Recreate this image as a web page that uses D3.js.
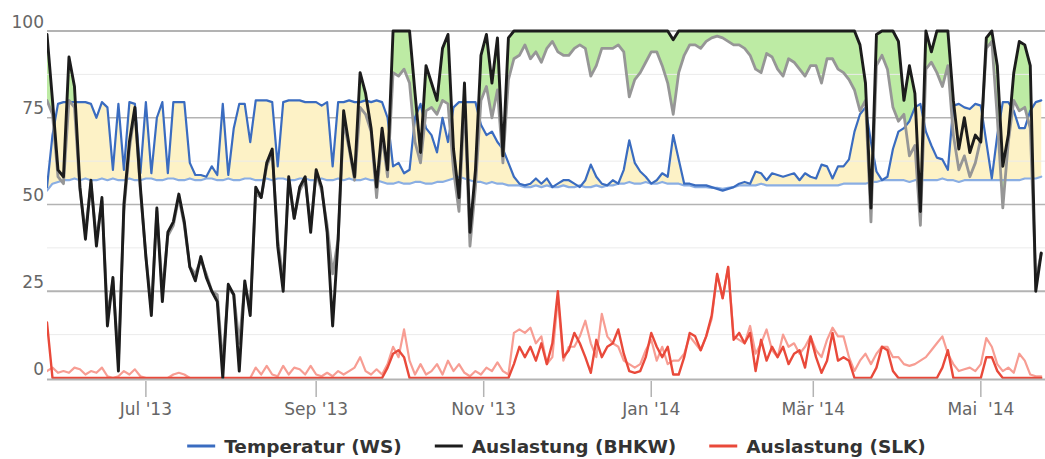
<!DOCTYPE html>
<html><head><meta charset="utf-8">
<script src="https://cdn.jsdelivr.net/npm/d3@7"></script>
<style>body{margin:0;background:#fff}svg{display:block}</style>
</head><body>
<svg id="c" width="1045" height="459"></svg>
<script>
// ---- data: one value every 2 days, starting 26 May 2013 ----
const startDay = "2013-05-26";
const stepDays = 2;

const tempHigh = [
 55,70,79,79.5,79.5,79.5,79.5,79.5,79,75,
 79.5,78,60,79,60,79.5,79,59,79.5,59,
 75,79.5,59,79.5,79.5,79.5,62,58.5,58.5,58,
 61,58.5,79,58.5,72,79,79,68,80,80,
 80,79.5,61,79.5,80,80,80,79.5,79.5,79.5,
 78.5,79.5,61,79.5,79.5,80,79.5,79.5,80,79.5,
 80,79.5,75,61,62,59,60,75,79,72,
 70,65,75,68,78,79.5,79.5,79.5,79.5,73,
 70,71,68,66,62,58,56,55.5,56,57.5,
 56,57.5,55,56,57,57,56,55,57,61.5,
 58,56,55.5,57,56,60,68.5,62,59.5,58,
 56,57,59,58,70,63,56,56,55.5,55.5,
 55.5,55,54.5,54,54.5,55,56,56.5,56,59.5,
 59,57,59,58.5,58,58.5,59,57,59,58,
 57.5,61.5,61,57.5,61,61,63,71,76,78,
 68,59.5,57,58,66,71,72,74,78,79,
 71,67,63.5,63,60,78.5,79,78,77.5,79,
 78.5,68,57.5,70,79.5,79.5,77,72,72,77,
 79.5,80
];
const tempLow = [
 54,56,56.5,57,57,57.5,57,57.5,57,57,
 57.5,57,57.5,57,57,57.5,57,57,57.5,57.5,
 57,57,57.5,57.5,57,57,57.5,57,57,57.5,
 57.5,57,57,57.5,57,57,57.5,57.5,57,57,
 57.5,57,57.5,57.5,57,57,57.5,57.5,57,57,
 57.5,57,57,57.5,57,57.5,57,57,57.5,57,
 57,56.5,56,56,56.5,56,56,56.5,56.5,56,
 56,56.5,56.5,57,57.5,58,57.5,57,56.5,56.5,
 56,56.5,56,56,55.5,55.5,55.5,55,55,55.5,
 55,55.5,55,55,55.5,55,55,55.5,55,55,
 55.5,55,55.5,55.5,56,56,56.5,56,56,56.5,
 56,56,56.5,56,56,56,55.5,55.5,55,55,
 55,54.8,54.8,54.5,54.8,55,55.5,55.5,55.5,55.5,
 56,55.5,55.5,55.5,55.5,55.5,55.5,55.5,55.5,55.5,
 55.5,55.5,55.5,55.5,55.5,56,56,56,56,56,
 56.5,56.5,57,57,57,57,57,56.5,57,57,
 57,57,57,57.5,57,57,56.5,57,57,57,
 57,57,57,57,57,57,57,57,57.5,57.5,
 57.5,58
];
const bhkwLoad = [
 99,80,60,58,92.5,84,55,40,57,38,
 52,15,29,2,50,68,78,55,35,18,
 49,22,42,45,53,45,32,28,35,29,
 25,22,0,27,24,2,28,18,55,52,
 62,66,38,25,58,46,55,58,42,60,
 55,42,15,40,77,67,58,88,82,72,
 55,72,60,100,100,100,100,82,65,90,
 85,80,95,99,66,52,85,42,60,93,
 99,85,98,64,98,100,100,100,100,100,
 100,100,100,100,100,100,100,100,100,100,
 100,100,100,100,100,100,100,100,100,100,
 100,100,100,100,97.5,100,100,100,100,100,
 100,100,100,100,100,100,100,100,100,100,
 100,100,100,100,100,100,100,100,100,100,
 100,100,100,100,100,100,100,100,96,85,
 49,99,100,100,100,97,80,90,82,48,
 100,94,100,100,100,80,66,75,65,70,
 68,98,100,90,61,70,88,97,96,90,
 25,36
];
const bhkwLoadRef = [
 80,76,58,56,80,78,54,42,56,40,
 51,18,28,5,48,66,77,54,35,20,
 48,25,41,44,52,44,32,30,34,30,
 25,24,4,26,24,10,27,20,53,52,
 61,65,40,28,57,46,54,57,44,59,
 54,44,30,40,74,66,57,78,76,71,
 52,70,58,88,87,89,85,68,62,77,
 78,76,80,79,60,48,80,38,55,80,
 84,75,83,62,86,92,93,96,92,94,
 91,95,97,94,93,93,95,96,95,87,
 90,95,95,95,96,94,81,86,88,91,
 94,94,90,85,76,88,93,96,96,95,
 97,98,98.5,98,97,96,96,95,93,89,
 88,93.5,92.5,89,87,92,91,89,87,90,
 90,85,92,92,89,88,86,83,77,80,
 45,90,93,89,78,74,76,64,67,44,
 89,91,88,84,90,70,60,64,58,62,
 69,95,97,75,49,68,80,77,78,72,
 28,36
];
const slkLoad = [
 16,0,0,0,0,0,0,0,0,0,
 0,0,0,0,0,0,0,0,0,0,
 0,0,0,0,0,0,0,0,0,0,
 0,0,0,0,0,0,0,0,0,0,
 0,0,0,0,0,0,0,0,0,0,
 0,0,0,0,0,0,0,0,0,0,
 0,0,3,7,8,6,0,0,0,0,
 0,0,0,0,0,0,0,0,0,0,
 0,0,0,0,0,4,9,6,9,5,
 10,4,10,25,6,8,13,10,6,1.5,
 11,6,9,10,14,7,2,1.5,2,6,
 13,9,6,9,1,1,6,13,12,8,
 12,18,30,23,32,11,13,10,13,2,
 11,5,9,6,9,4,7,8,3,12,
 6,1.5,5,13,5,6,5,0,0,0,
 0,3,9,8,2,0,0,0,0,0,
 0,0,0,3,8,0,0,0,0,0,
 0,6,6,2,0,0,0,0,0,0,
 0,0
];
const slkLoadRef = [
 2,3,1.5,2,1.5,3,2.5,1,2,1.5,
 3,0.5,0,0.5,2,1,2.5,0.5,0,0,
 0,0,0,1,1.5,1,0,0,0,0,
 0,0,0,0,0,0,0,0,3,1,
 3.5,1,0.5,3.5,1,3,2.5,1,3.5,1,
 0.5,1.5,0.5,2,1,2,3,6,2,1,
 2.5,1,4,9,6,14,5,1,4,1,
 2,4,1,5,2,4,1.5,0.5,2,1,
 3,2,4.5,2,1,13,14,13,14.5,10,
 12,4,6,23,5,9,9,12,16.5,10,
 6,18.5,12,10,9,5,4,3,4,8,
 11,5,9,4,5,5,7,12,10,8,
 12,17,30,23,32,12,11,10,15,7,
 10,14,8,6,12.5,9,10,7,9,12,
 8,6,11,14.5,12,12,6,2,5,7,
 4,7,9,9,6,6,4,3.5,4,5,
 6,8,10,12,7,4,2,2.5,3,2,
 4,11.5,9,4,2,3,1.5,7,5,1,
 0.5,0.5
];

const seriesNames = ["Temperatur (WS)", "Auslastung (BHKW)", "Auslastung (SLK)"];
const tickDates = ["2013-07-01","2013-09-01","2013-11-01","2014-01-01","2014-03-01","2014-05-01"];
const tickLabels = ["Jul '13","Sep '13","Nov '13","Jan '14","Mär '14","Mai\u00A0 '14"];
const yTicks = [0,25,50,75,100];
const yMinorTicks = [12.5,37.5,62.5,87.5];
const xDomain = ["2013-05-26","2014-05-24"];

// ---- drawing ----
const svg = d3.select("#c");
const parse = d3.utcParse("%Y-%m-%d");
const x = d3.scaleUtc().domain(xDomain.map(parse)).range([47, 1044]);
const y = d3.scaleLinear().domain([0, 100]).range([378, 31]);
const t0 = parse(startDay);
const rows = tempHigh.map((v, i) => ({
  date: d3.utcDay.offset(t0, i * stepDays),
  th: v, tl: tempLow[i], b: bhkwLoad[i], g: bhkwLoadRef[i], s: slkLoad[i], sr: slkLoadRef[i]
}));

const C = {
  blue: "#3a6cc0", blueLight: "#8aaee3", yellow: "#fdf2c6", green: "#bdeba4",
  black: "#1c1c1c", gray: "#969696", red: "#e9493a", redLight: "#f79d93"
};

svg.append("defs").append("clipPath").attr("id", "plot")
  .append("rect").attr("x", 47).attr("y", 20).attr("width", 1000).attr("height", 362);

// major gridlines
svg.append("g").selectAll("line").data(yTicks.filter(v => v > 0)).join("line")
  .attr("x1", 47).attr("x2", 1045)
  .attr("y1", d => y(d)).attr("y2", d => y(d))
  .attr("stroke", "#b3b3b3")
  .attr("stroke-width", d => (d === 25 || d === 100) ? 2 : 1.5);

const plot = svg.append("g").attr("clip-path", "url(#plot)");

// fills (temperature band drawn over the load band)
plot.append("path").datum(rows)
  .attr("fill", C.green)
  .attr("d", d3.area().x(d => x(d.date)).y0(d => y(Math.min(d.g, d.b))).y1(d => y(d.b)));
plot.append("path").datum(rows)
  .attr("fill", C.yellow)
  .attr("d", d3.area().x(d => x(d.date)).y0(d => y(d.tl)).y1(d => y(d.th)));

// minor gridlines
plot.append("g").selectAll("line").data(yMinorTicks).join("line")
  .attr("x1", 47).attr("x2", 1045)
  .attr("y1", d => y(d)).attr("y2", d => y(d))
  .attr("stroke", "#ebebeb").attr("stroke-width", 1);

// lines
function line(key, color, w) {
  plot.append("path").datum(rows)
    .attr("fill", "none").attr("stroke", color).attr("stroke-width", w)
    .attr("stroke-linejoin", "round").attr("stroke-linecap", "round")
    .attr("d", d3.line().x(d => x(d.date)).y(d => y(d[key])));
}
line("tl", C.blueLight, 2.2);
line("th", C.blue, 2.2);
line("sr", C.redLight, 2.2);
line("s", C.red, 2.4);
line("g", C.gray, 2.8);
line("b", C.black, 2.9);

// x axis
svg.append("line").attr("x1", 47).attr("x2", 1045).attr("y1", 379.5).attr("y2", 379.5)
  .attr("stroke", "#b3b3b3").attr("stroke-width", 2);
const xt = svg.append("g").selectAll("g").data(tickDates).join("g")
  .attr("transform", d => `translate(${x(parse(d))},0)`);
xt.append("line").attr("y1", 381).attr("y2", 397).attr("stroke", "#b3b3b3").attr("stroke-width", 1.5);
xt.append("text").attr("y", 415).attr("text-anchor", "middle")
  .attr("font-family", "DejaVu Sans").attr("font-size", 17).attr("fill", "#666")
  .style("white-space", "pre")
  .text((d, i) => tickLabels[i]);

// y labels
svg.append("g").selectAll("text").data(yTicks).join("text")
  .attr("x", 44).attr("y", d => y(d) - 3.5).attr("text-anchor", "end")
  .attr("font-family", "DejaVu Sans").attr("font-size", 17).attr("fill", "#666")
  .text(d => d);

// legend
const legColors = [C.blue, C.black, C.red];
const leg = svg.append("g");
let cx = 0;
seriesNames.forEach((name, i) => {
  const g = leg.append("g");
  g.append("line").attr("x1", 0).attr("x2", 28).attr("y1", 446).attr("y2", 446)
    .attr("stroke", legColors[i]).attr("stroke-width", 3);
  const t = g.append("text").attr("x", 37).attr("y", 452.5)
    .attr("font-family", "DejaVu Sans").attr("font-weight", "bold").attr("font-size", 18.5)
    .attr("fill", "#333").text(name);
  const w = 37 + t.node().getComputedTextLength();
  g.attr("transform", `translate(${cx},0)`);
  cx += w + 33;
});
const total = cx - 33;
leg.attr("transform", `translate(${556.5 - total / 2},0)`);
</script>
</body></html>
